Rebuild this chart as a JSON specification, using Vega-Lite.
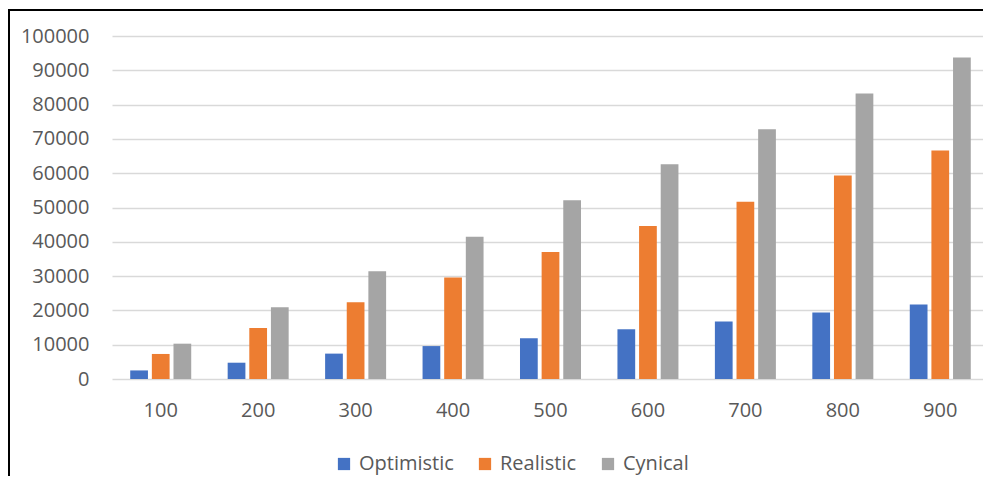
{
  "$schema": "https://vega.github.io/schema/vega-lite/v6.json",
  "width": 1010,
  "height": 500,
  "autosize": {"type": "none"},
  "padding": {"left": 9, "top": 10, "right": -36, "bottom": -34},
  "config": {
    "font": "Open Sans",
    "view": {"stroke": "#000000", "strokeWidth": 2}
  },
  "data": {
    "values": [
      {"units": 100, "scenario": "Optimistic", "value": 2500},
      {"units": 200, "scenario": "Optimistic", "value": 4750},
      {"units": 300, "scenario": "Optimistic", "value": 7400},
      {"units": 400, "scenario": "Optimistic", "value": 9600},
      {"units": 500, "scenario": "Optimistic", "value": 11900},
      {"units": 600, "scenario": "Optimistic", "value": 14500},
      {"units": 700, "scenario": "Optimistic", "value": 16800},
      {"units": 800, "scenario": "Optimistic", "value": 19400},
      {"units": 900, "scenario": "Optimistic", "value": 21700},
      {"units": 100, "scenario": "Realistic", "value": 7300},
      {"units": 200, "scenario": "Realistic", "value": 14900},
      {"units": 300, "scenario": "Realistic", "value": 22400},
      {"units": 400, "scenario": "Realistic", "value": 29600},
      {"units": 500, "scenario": "Realistic", "value": 37000},
      {"units": 600, "scenario": "Realistic", "value": 44600},
      {"units": 700, "scenario": "Realistic", "value": 51700},
      {"units": 800, "scenario": "Realistic", "value": 59300},
      {"units": 900, "scenario": "Realistic", "value": 66600},
      {"units": 100, "scenario": "Cynical", "value": 10300},
      {"units": 200, "scenario": "Cynical", "value": 20900},
      {"units": 300, "scenario": "Cynical", "value": 31400},
      {"units": 400, "scenario": "Cynical", "value": 41500},
      {"units": 500, "scenario": "Cynical", "value": 52100},
      {"units": 600, "scenario": "Cynical", "value": 62600},
      {"units": 700, "scenario": "Cynical", "value": 72800},
      {"units": 800, "scenario": "Cynical", "value": 83200},
      {"units": 900, "scenario": "Cynical", "value": 93700}
    ]
  },
  "mark": {"type": "bar"},
  "encoding": {
    "x": {
      "field": "units",
      "type": "ordinal",
      "scale": {"range": [103, 980], "paddingInner": 0.374, "paddingOuter": 0.187},
      "axis": {
        "title": null,
        "labelAngle": 0,
        "ticks": false,
        "domain": false,
        "grid": false,
        "offset": -110,
        "labelPadding": 0,
        "labelFontSize": 20,
        "labelColor": "#595959"
      }
    },
    "xOffset": {
      "field": "scenario",
      "type": "nominal",
      "sort": ["Optimistic", "Realistic", "Cynical"],
      "scale": {"paddingInner": 0.18}
    },
    "y": {
      "field": "value",
      "type": "quantitative",
      "scale": {"domain": [0, 100000], "range": [369, 26], "nice": false},
      "axis": {
        "title": null,
        "values": [0, 10000, 20000, 30000, 40000, 50000, 60000, 70000, 80000, 90000, 100000],
        "format": "d",
        "ticks": false,
        "domain": false,
        "offset": -80,
        "labelPadding": 0,
        "labelFontSize": 20,
        "labelColor": "#595959",
        "gridColor": "#D9D9D9",
        "gridWidth": 1.5
      }
    },
    "color": {
      "field": "scenario",
      "type": "nominal",
      "scale": {
        "domain": ["Optimistic", "Realistic", "Cynical"],
        "range": ["#4472C4", "#ED7D31", "#A5A5A5"]
      },
      "legend": {
        "title": null,
        "orient": "none",
        "direction": "horizontal",
        "legendX": 325,
        "legendY": 444,
        "symbolType": "square",
        "symbolSize": 150,
        "symbolStrokeWidth": 0,
        "labelFontSize": 20,
        "labelColor": "#595959",
        "labelOffset": 5,
        "columnPadding": 21
      }
    }
  }
}
